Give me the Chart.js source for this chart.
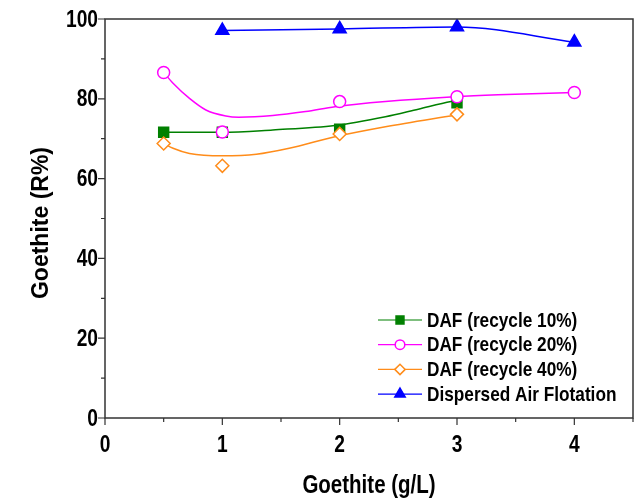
<!DOCTYPE html>
<html>
<head>
<meta charset="utf-8">
<script src="https://cdn.jsdelivr.net/npm/chart.js@4"></script>
<style>
  html, body { margin: 0; padding: 0; background: #fff; }
  #wrap { width: 644px; height: 501px; }
</style>
</head>
<body>
<div id="wrap"><canvas id="goethiteChart" width="644" height="501"></canvas></div>
<script>
// measured points
const conc = [0.5, 1, 2, 3, 4];
const daf10 = [71.6, 71.6, 72.4, 79.0, null];
const daf20 = [86.6, 71.7, 79.3, 80.5, 81.6];
const daf40 = [68.8, 63.2, 71.2, 76.1, null];
const dispersed = [null, 97.1, 97.5, 98.0, 94.2];

// smoothed curves
const curve10X = [0.5, 1.0, 1.43, 1.96, 2.39, 2.67, 2.95, 3.0];
const curve10Y = [71.6, 71.6, 72.2, 73.3, 75.5, 77.4, 79.3, 79.5];
const curve20X = [0.5, 0.58, 0.72, 0.86, 1.03, 1.14, 1.43, 1.71, 1.96, 2.39, 2.98, 3.35, 4.0];
const curve20Y = [86.6, 83.9, 80.1, 77.2, 75.7, 75.4, 75.8, 76.8, 78.0, 79.3, 80.5, 81.0, 81.6];
const curve40X = [0.5, 0.58, 0.72, 1.0, 1.29, 1.57, 1.96, 2.39, 2.98];
const curve40Y = [68.8, 67.6, 66.3, 65.7, 66.1, 67.6, 70.5, 73.0, 75.9];

const xTicks = [0, 1, 2, 3, 4];
const yTicks = [0, 20, 40, 60, 80, 100];

const labels = ["DAF (recycle 10%)", "DAF (recycle 20%)", "DAF (recycle 40%)", "Dispersed Air Flotation"];
const xTitle = "Goethite (g/L)";
const yTitle = "Goethite (R%)";

const GREEN = "#008000", PINK = "#ff00ff", ORANGE = "#ff8c1a", BLUE = "#0000ff";
const FONT = "'Liberation Sans', Arial, sans-serif";

function pts(xs, ys) {
  const out = [];
  xs.forEach((x, i) => { if (ys[i] !== null) out.push({ x: x, y: ys[i] }); });
  return out;
}

function curve(xs, ys, color) {
  return {
    data: pts(xs, ys), borderColor: color, borderWidth: 1.5, pointRadius: 0,
    cubicInterpolationMode: "monotone", fill: false, order: 10, isCurve: true
  };
}

function marks(ys, label, color, style, radius, fillCol, order) {
  return {
    label: label, data: pts(conc, ys), showLine: false, borderColor: color,
    pointBackgroundColor: fillCol, pointBorderColor: color, pointBorderWidth: 1.5,
    pointStyle: style, pointRadius: radius, order: order
  };
}

// condensed bold text (the original uses a narrow face)
function narrowText(ctx, text, x, y, size, align, k) {
  ctx.save();
  ctx.translate(x, y);
  ctx.scale(k, 1);
  ctx.font = "bold " + size + "px " + FONT;
  ctx.textAlign = align;
  ctx.textBaseline = "middle";
  ctx.fillStyle = "#000";
  ctx.fillText(text, 0, 0);
  ctx.restore();
}

// plot frame, tick marks, tick labels and axis titles
const framePlugin = {
  id: "frame",
  afterDraw(chart) {
    const ctx = chart.ctx, a = chart.chartArea;
    const xs = chart.scales.x, ys = chart.scales.y;
    ctx.save();
    ctx.strokeStyle = "#333";
    ctx.lineWidth = 1.5;
    ctx.strokeRect(a.left, a.top, a.right - a.left, a.bottom - a.top);
    ctx.lineWidth = 1.2;
    ctx.beginPath();
    for (let v = 0; v <= 4.5; v += 0.5) {
      const px = xs.getPixelForValue(v);
      const len = Number.isInteger(v) ? 7 : 4;
      ctx.moveTo(px, a.bottom); ctx.lineTo(px, a.bottom + len);
    }
    for (let v = 0; v <= 100; v += 10) {
      const py = ys.getPixelForValue(v);
      const len = v % 20 === 0 ? 7 : 4;
      ctx.moveTo(a.left, py); ctx.lineTo(a.left - len, py);
    }
    ctx.stroke();
    ctx.restore();

    xTicks.forEach(v => narrowText(ctx, String(v), xs.getPixelForValue(v), 445, 24, "center", 0.8));
    yTicks.forEach(v => narrowText(ctx, String(v), 98, ys.getPixelForValue(v) + 1, 24, "right", 0.8));
    narrowText(ctx, xTitle, (a.left + a.right) / 2, 486, 25, "center", 0.82);

    ctx.save();
    ctx.translate(42, 223);
    ctx.rotate(-Math.PI / 2);
    ctx.font = "bold 23px " + FONT;
    ctx.textAlign = "center";
    ctx.textBaseline = "middle";
    ctx.fillStyle = "#000";
    ctx.fillText(yTitle, 0, 0);
    ctx.restore();
  }
};

// legend drawn inside plot: line - marker - line
const legendPlugin = {
  id: "insideLegend",
  afterDraw(chart) {
    const ctx = chart.ctx;
    const sets = chart.data.datasets.filter(d => !d.isCurve);
    sets.forEach((d, i) => {
      const y = 320 + i * 24.7;
      ctx.save();
      ctx.strokeStyle = d.borderColor;
      ctx.lineWidth = 1.2;
      ctx.beginPath(); ctx.moveTo(378, y); ctx.lineTo(422, y); ctx.stroke();
      ctx.fillStyle = d.pointBackgroundColor;
      ctx.strokeStyle = d.pointBorderColor;
      ctx.lineWidth = 1.5;
      Chart.helpers.drawPoint(ctx, {
        pointStyle: d.pointStyle, radius: d.pointRadius * 0.8, borderWidth: 1.5
      }, 400, y);
      ctx.restore();
      narrowText(ctx, d.label, 427, y + 1, 21, "left", 0.82);
    });
  }
};

const ctx = document.getElementById("goethiteChart");
new Chart(ctx, {
  type: "line",
  data: {
    datasets: [
      curve(curve10X, curve10Y, GREEN),
      curve(curve20X, curve20Y, PINK),
      curve(curve40X, curve40Y, ORANGE),
      { data: pts(conc, dispersed), borderColor: BLUE, borderWidth: 1.5, pointRadius: 0,
        cubicInterpolationMode: "monotone", fill: false, order: 10, isCurve: true },
      marks(daf10, labels[0], GREEN, "rect", 7, GREEN, 3),
      marks(daf20, labels[1], PINK, "circle", 6, "#fff", 1),
      marks(daf40, labels[2], ORANGE, "rectRot", 6.5, "#fff", 2),
      marks(dispersed, labels[3], BLUE, "triangle", 7.5, BLUE, 0)
    ]
  },
  options: {
    responsive: false,
    animation: false,
    layout: { padding: { top: 19, right: 11, left: 0, bottom: 0 } },
    plugins: { legend: { display: false }, tooltip: { enabled: false } },
    scales: {
      x: {
        type: "linear", min: 0, max: 4.5,
        afterBuildTicks: s => { s.ticks = xTicks.map(v => ({ value: v })); },
        afterFit: s => { s.height = 83; },
        grid: { display: false }, border: { display: false },
        ticks: { display: false }
      },
      y: {
        min: 0, max: 100,
        afterBuildTicks: s => { s.ticks = yTicks.map(v => ({ value: v })); },
        afterFit: s => { s.width = 105; },
        grid: { display: false }, border: { display: false },
        ticks: { display: false }
      }
    }
  },
  plugins: [framePlugin, legendPlugin]
});
</script>
</body>
</html>
